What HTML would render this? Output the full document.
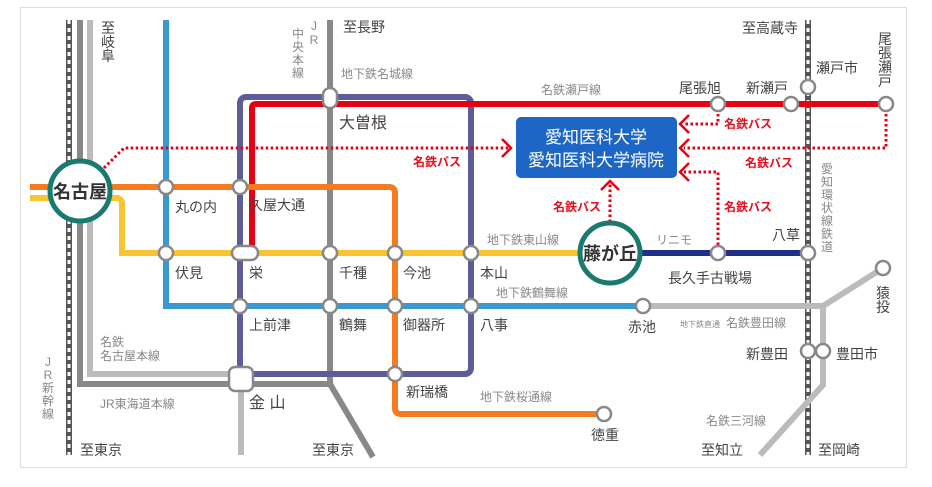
<!DOCTYPE html>
<html><head><meta charset="utf-8"><style>
body{margin:0;background:#fff;width:932px;height:482px;overflow:hidden}
svg text{font-family:"Liberation Sans","Noto Sans CJK JP",sans-serif}
.s{font-size:14px;fill:#444}
.l{font-size:12px;fill:#888}
.b{font-size:12px;fill:#e8101e;font-weight:bold}
.st{fill:#fff;stroke:#888;stroke-width:2.5}
</style></head><body>
<svg width="932" height="482" viewBox="0 0 932 482">
<rect x="20.5" y="7.5" width="886" height="460" fill="#fff" stroke="#ddd"/>
<line x1="69" y1="20" x2="69" y2="455" stroke="#555" stroke-width="6"/>
<line x1="69" y1="20" x2="69" y2="455" stroke="#fff" stroke-width="3" stroke-dasharray="4 4"/>
<line x1="808" y1="20" x2="808" y2="455" stroke="#555" stroke-width="6"/>
<line x1="808" y1="20" x2="808" y2="455" stroke="#fff" stroke-width="3" stroke-dasharray="4 4"/>
<path d="M80 20 V384 H330 L373 457" fill="none" stroke="#888" stroke-width="6"/>
<path d="M90 20 V374 H241" fill="none" stroke="#bbb" stroke-width="6"/>
<line x1="330" y1="20" x2="330" y2="384" stroke="#888" stroke-width="6"/>
<line x1="241" y1="384" x2="241" y2="455" stroke="#bbb" stroke-width="6"/>
<path d="M643 306 H823 L883 268" fill="none" stroke="#bbb" stroke-width="6"/>
<path d="M823 306 V385 L760 455" fill="none" stroke="#bbb" stroke-width="6"/>
<path d="M166 20 V306 H643" fill="none" stroke="#3a9ad0" stroke-width="6"/>
<rect x="240" y="97" width="231" height="277" rx="6" fill="none" stroke="#5c5c99" stroke-width="6"/>
<path d="M252 253 V108 Q252 104 256 104 H886" fill="none" stroke="#e60012" stroke-width="6"/>
<path d="M30 198 H116 Q122 198 122 204 V253 H610" fill="none" stroke="#f8c431" stroke-width="6"/>
<path d="M30 187 H389 Q395 187 395 193 V408 Q395 414 401 414 H604" fill="none" stroke="#f47b20" stroke-width="6"/>
<line x1="610" y1="253" x2="808" y2="253" stroke="#1d2f86" stroke-width="6"/>
<g fill="none" stroke="#e60012" stroke-width="3" stroke-dasharray="2.5 2.5">
<path d="M104 168 L124 148 H508"/>
<path d="M718 114 V124 H684"/>
<path d="M886 114 V148 H684"/>
<path d="M718 245 V172 H684"/>
<path d="M610 222 V184"/>
</g>
<g fill="none" stroke="#e60012" stroke-width="2.5">
<path d="M502 139 L511 148 L502 157"/>
<path d="M689 115 L680 124 L689 133"/>
<path d="M689 139 L680 148 L689 157"/>
<path d="M689 163 L680 172 L689 181"/>
<path d="M601 190 L610 181 L619 190"/>
</g>
<rect x="516" y="117" width="161" height="61" rx="5" fill="#1e66c6"/>
<text x="596" y="143" text-anchor="middle" font-size="17" fill="#fff">愛知医科大学</text>
<text x="596" y="166" text-anchor="middle" font-size="17" fill="#fff">愛知医科大学病院</text>
<g class="st">
<circle cx="166" cy="187" r="7"/><circle cx="240" cy="187" r="7"/>
<rect x="323" y="88" width="14" height="20" rx="7"/>
<circle cx="166" cy="253" r="7"/>
<rect x="232" y="246" width="26" height="14" rx="7"/>
<circle cx="330" cy="253" r="7"/><circle cx="395" cy="253" r="7"/><circle cx="471" cy="253" r="7"/>
<circle cx="240" cy="306" r="7"/><circle cx="330" cy="306" r="7"/><circle cx="395" cy="306" r="7"/><circle cx="471" cy="306" r="7"/>
<rect x="229" y="367" width="24" height="24" rx="6"/>
<circle cx="395" cy="374" r="7"/><circle cx="604" cy="414" r="7"/><circle cx="643" cy="306" r="7"/>
<circle cx="718" cy="253" r="7"/><circle cx="808" cy="253" r="7"/>
<circle cx="718" cy="104" r="7"/><circle cx="791" cy="104" r="7"/><circle cx="808" cy="87" r="7"/><circle cx="886" cy="104" r="7"/>
<circle cx="883" cy="268" r="7"/><circle cx="808" cy="351" r="7"/><circle cx="823" cy="351" r="7"/>
</g>
<circle cx="80" cy="191" r="30" fill="#fff" stroke="#1a7a6e" stroke-width="5"/>
<text x="80" y="198" text-anchor="middle" font-size="18" font-weight="bold" fill="#333">名古屋</text>
<circle cx="610" cy="253" r="30" fill="#fff" stroke="#1a7a6e" stroke-width="5"/>
<text x="610" y="260" text-anchor="middle" font-size="18" font-weight="bold" fill="#333">藤が丘</text>
<g class="s">
<text x="175" y="212">丸の内</text><text x="249" y="210">久屋大通</text>
<text x="339" y="128" font-size="16">大曽根</text>
<text x="175" y="278">伏見</text><text x="249" y="278">栄</text>
<text x="339" y="278">千種</text><text x="403" y="278">今池</text><text x="480" y="278">本山</text>
<text x="249" y="330">上前津</text><text x="339" y="330">鶴舞</text><text x="403" y="330">御器所</text><text x="480" y="330">八事</text>
<text x="249" y="408" font-size="16">金 山</text>
<text x="406" y="397">新瑞橋</text><text x="591" y="440">徳重</text>
<text x="628" y="332">赤池</text>
<text x="668" y="283">長久手古戦場</text>
<text x="772" y="240">八草</text>
<text x="679" y="93">尾張旭</text><text x="746" y="93">新瀬戸</text>
<text x="816" y="73">瀬戸市</text>
<text x="746" y="359">新豊田</text><text x="836" y="359">豊田市</text>
<text x="343" y="32">至長野</text>
<text x="742" y="33">至高蔵寺</text>
<text x="80" y="455">至東京</text><text x="312" y="455">至東京</text>
<text x="701" y="455">至知立</text><text x="818" y="455">至岡崎</text>
</g>
<g class="s" text-anchor="middle">
<text x="108" y="33">至</text><text x="108" y="47">岐</text><text x="108" y="61">阜</text>
<text x="885" y="44">尾</text><text x="885" y="58">張</text><text x="885" y="72">瀬</text><text x="885" y="86">戸</text>
<text x="883" y="298">猿</text><text x="883" y="312">投</text>
</g>
<g class="l" text-anchor="middle">
<text x="298" y="38">中</text><text x="298" y="51">央</text><text x="298" y="64">本</text><text x="298" y="77">線</text>
<text x="314" y="30">J</text><text x="314" y="44">R</text>
<text x="48" y="366">J</text><text x="48" y="379">R</text><text x="48" y="392">新</text><text x="48" y="405">幹</text><text x="48" y="418">線</text>
<text x="827" y="173">愛</text><text x="827" y="186">知</text><text x="827" y="199">環</text><text x="827" y="212">状</text><text x="827" y="225">線</text><text x="827" y="238">鉄</text><text x="827" y="251">道</text>
</g>
<g class="l">
<text x="341" y="78">地下鉄名城線</text>
<text x="541" y="94">名鉄瀬戸線</text>
<text x="487" y="244">地下鉄東山線</text>
<text x="656" y="244">リニモ</text>
<text x="496" y="297">地下鉄鶴舞線</text>
<text x="680" y="327" font-size="8">地下鉄直通</text><text x="726" y="327">名鉄豊田線</text>
<text x="100" y="346">名鉄</text><text x="100" y="360">名古屋本線</text>
<text x="100" y="408">JR東海道本線</text>
<text x="480" y="401">地下鉄桜通線</text>
<text x="706" y="425">名鉄三河線</text>
</g>
<g class="b">
<text x="413" y="166">名鉄バス</text>
<text x="724" y="128">名鉄バス</text>
<text x="745" y="167">名鉄バス</text>
<text x="724" y="211">名鉄バス</text>
<text x="553" y="211">名鉄バス</text>
</g>
</svg>
</body></html>
